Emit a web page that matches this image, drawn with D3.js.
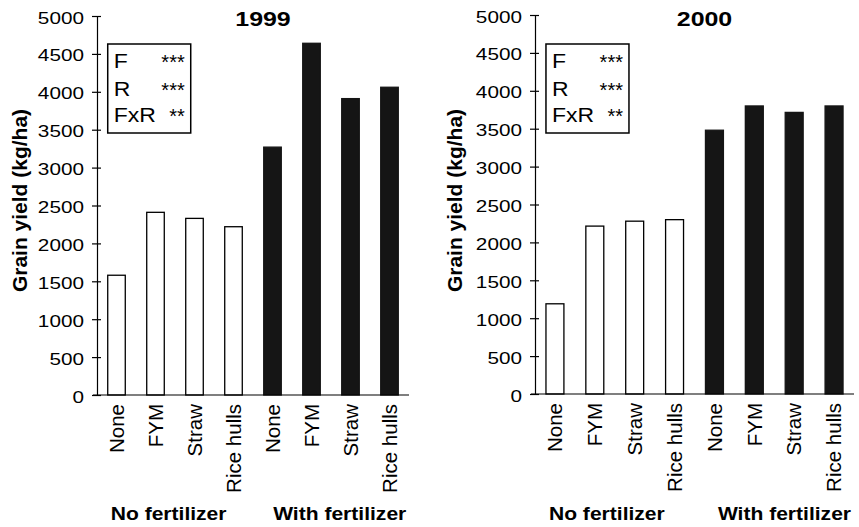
<!DOCTYPE html>
<html>
<head>
<meta charset="utf-8">
<script src="https://cdn.jsdelivr.net/npm/d3@7"></script>
<style>
  body { margin: 0; background: #fff; }
  text { font-family: "Liberation Sans", Arial, Helvetica, sans-serif; fill: #000; }
</style>
</head>
<body>
<div id="chart"></div>
<script>
// data
const residues = ['None', 'FYM', 'Straw', 'Rice hulls']
const fertGroups = ['No fertilizer', 'With fertilizer']
const yield1999 = [1580, 2410, 2330, 2220, 3270, 4640, 3910, 4060]
const yield2000 = [1190, 2215, 2280, 2300, 3480, 3800, 3715, 3800]
const yTicks = [0, 500, 1000, 1500, 2000, 2500, 3000, 3500, 4000, 4500, 5000]
const effects = ['F', 'R', 'FxR']
const signif = ['***', '***', '**']

// layout for the two panels
const panels = [
  { title: '1999', values: yield1999, x0: 97, x1: 409, top: 16, bottom: 395, labelX: 27 },
  { title: '2000', values: yield2000, x0: 535, x1: 854, top: 15, bottom: 394, labelX: 462 },
]

const svg = d3.select('#chart')
  .append('svg')
  .attr('width', 859)
  .attr('height', 527)

function drawPanel(p) {
  const items = fertGroups.flatMap((g, gi) =>
    residues.map((r, ri) => ({ key: g + '|' + r, residue: r, fert: gi, value: p.values[gi * 4 + ri] })))

  const x = d3.scaleBand()
    .domain(items.map(d => d.key))
    .range([p.x0, p.x1])
    .paddingInner(0.55)
    .paddingOuter(0.275)

  const y = d3.scaleLinear()
    .domain([0, 5000])
    .range([p.bottom, p.top])

  const g = svg.append('g')

  // bars
  g.selectAll('rect.bar')
    .data(items)
    .join('rect')
      .attr('class', 'bar')
      .attr('x', d => x(d.key))
      .attr('y', d => y(d.value))
      .attr('width', x.bandwidth())
      .attr('height', d => y(0) - y(d.value))
      .attr('fill', d => d.fert ? '#151515' : '#fff')
      .attr('stroke', d => d.fert ? '#151515' : '#000')
      .attr('stroke-width', 1.3)

  // y axis, ticks cross the line
  const yAxis = g.append('g')
      .attr('transform', `translate(${p.x0},0)`)
      .call(d3.axisLeft(y).tickValues(yTicks).tickSize(5).tickSizeOuter(0).tickFormat(d3.format('d')))
      .attr('font-size', 17)
      .attr('font-family', null)
  yAxis.select('.domain').attr('stroke-width', 1.2)
  yAxis.selectAll('.tick line').attr('x1', 4).attr('stroke-width', 1.2)
  yAxis.selectAll('.tick text')
      .attr('x', null)
      .attr('dy', null)
      .attr('text-anchor', 'end')
      .attr('transform', 'translate(-13,7) scale(1.22,1)')

  // baseline
  g.append('line')
      .attr('x1', p.x0 - 4)
      .attr('x2', p.x1)
      .attr('y1', y(0))
      .attr('y2', y(0))
      .attr('stroke', '#000')
      .attr('stroke-width', 1.2)

  // category labels
  g.selectAll('text.cat')
    .data(items)
    .join('text')
      .attr('class', 'cat')
      .attr('font-size', 20.5)
      .attr('text-anchor', 'end')
      .attr('transform', d => `translate(${x(d.key) + x.bandwidth() / 2 + 7.3},${y(0) + 9}) rotate(-90)`)
      .text(d => d.residue)

  // group labels
  const first = items[0].key
  const last = items[items.length - 1].key
  g.append('text')
      .attr('font-size', 18)
      .attr('font-weight', 'bold')
      .attr('transform', `translate(${x(first) + 3},520) scale(1.17,1)`)
      .text(fertGroups[0])
  g.append('text')
      .attr('font-size', 18)
      .attr('font-weight', 'bold')
      .attr('text-anchor', 'end')
      .attr('transform', `translate(${x(last) + x.bandwidth() + 8},520) scale(1.17,1)`)
      .text(fertGroups[1])

  // panel title
  g.append('text')
      .attr('font-size', 19.5)
      .attr('font-weight', 'bold')
      .attr('text-anchor', 'middle')
      .attr('transform', `translate(${(p.x0 + p.x1) / 2 + 10},25.5) scale(1.28,1)`)
      .text(p.title)

  // y title
  g.append('text')
      .attr('font-size', 21)
      .attr('font-weight', 'bold')
      .attr('text-anchor', 'middle')
      .attr('transform', `translate(${p.labelX},200.5) rotate(-90)`)
      .text('Grain yield (kg/ha)')

  // significance box
  const bx = x(first), by = 44, bw = 83, bh = 89
  const box = g.append('g')
  box.append('rect')
      .attr('x', bx).attr('y', by)
      .attr('width', bw).attr('height', bh)
      .attr('fill', '#fff')
      .attr('stroke', '#000')
      .attr('stroke-width', 1.5)
  const rowY = [23.7, 51.7, 78.3]
  box.selectAll('text.eff')
    .data(effects)
    .join('text')
      .attr('class', 'eff')
      .attr('font-size', 20)
      .attr('transform', (d, i) => `translate(${bx + 6},${by + rowY[i]}) scale(1.15,1)`)
      .text(d => d)
  box.selectAll('text.sig')
    .data(signif)
    .join('text')
      .attr('class', 'sig')
      .attr('font-size', 20)
      .attr('text-anchor', 'end')
      .attr('x', bx + bw - 6)
      .attr('y', (d, i) => by + rowY[i] + 1)
      .text(d => d)
}

panels.forEach(drawPanel)
</script>
</body>
</html>
